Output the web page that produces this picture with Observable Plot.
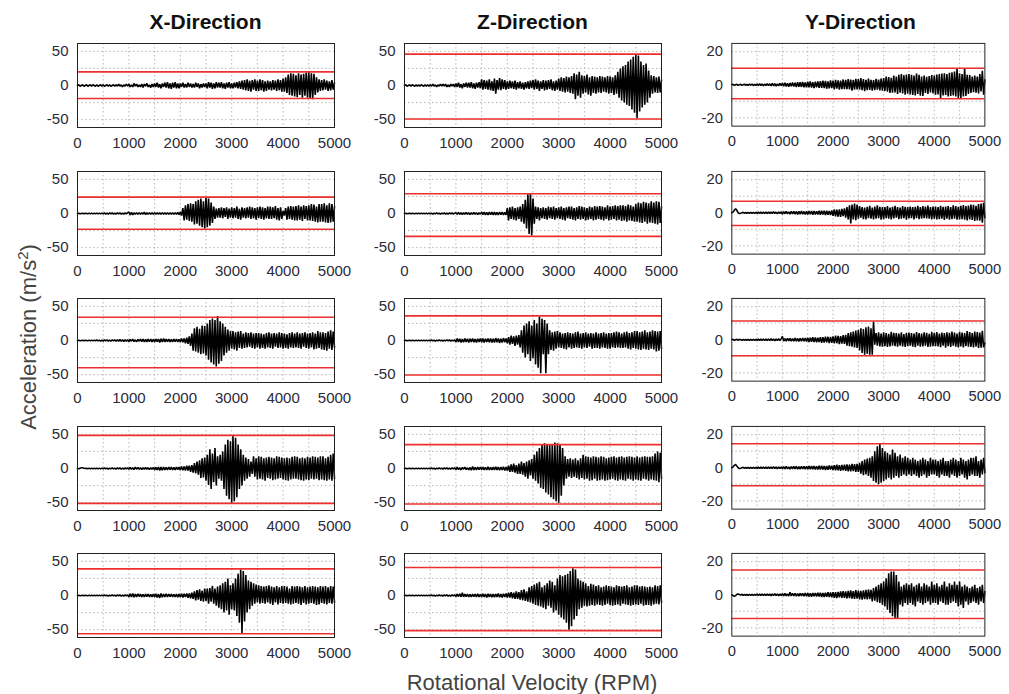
<!DOCTYPE html>
<html>
<head>
<meta charset="utf-8">
<script src="https://cdn.jsdelivr.net/npm/d3@7"></script>
<script src="https://cdn.jsdelivr.net/npm/@observablehq/plot@0.6"></script>
<style>
  html, body { margin: 0; padding: 0; background: #fff; }
  #wrap { position: relative; width: 1009px; height: 694px; overflow: hidden; font-family: "Liberation Sans", Arial, sans-serif; }
  .panel { position: absolute; }
  .title { position: absolute; font-weight: bold; font-size: 21px; color: #111; text-align: center; width: 300px; }
  .ylab { position: absolute; font-size: 22px; color: #444; white-space: nowrap; transform: translate(-50%, -50%) rotate(-90deg); }
  .xlab { position: absolute; font-size: 22px; color: #444; white-space: nowrap; transform: translate(-50%, -50%); }
</style>
</head>
<body>
<div id="wrap"></div>
<script>
// ---- data ----
const directions = ["X-Direction", "Z-Direction", "Y-Direction"];
const rpmStep = 25; // samples every 25 RPM, 0..5000
const xTicks = [0, 1000, 2000, 3000, 4000, 5000];
const xGrid = [500, 1000, 1500, 2000, 2500, 3000, 3500, 4000, 4500];
const yTicksXZ = [-50, 0, 50];
const yGridXZ = [-50, -25, 25, 50];
const yTicksY = [-20, 0, 20];
const yGridY = [-20, -10, 10, 20];

const sigX1 = [
0,1,-1,0,1,-1,0,1,-1,0,
1,-1,1,0,-1,1,-1,0,1,-1,
1,-1,0,1,-1,1,-1,0,1,-1,
1,-1,2,-1,1,-2,1,-1,2,-1,
2,-2,1,-2,3,-1,2,-2,1,-2,
2,-3,2,-1,3,-2,1,-3,2,-2,
3,-2,4,-3,2,-4,3,-2,4,-3,
5,-4,3,-5,4,-3,5,-4,3,-4,
3,-2,4,-3,2,-3,4,-2,3,-3,
2,-3,4,-2,3,-4,2,-3,3,-2,
3,-4,5,-3,4,-5,3,-4,5,-3,
4,-3,5,-4,3,-5,4,-3,5,-4,
3,-4,4,-3,5,-4,6,-5,7,-6,
8,-7,9,-8,7,-9,8,-6,9,-8,
7,-8,9,-7,8,-9,6,-8,7,-6,
6,-7,8,-6,7,-8,9,-7,8,-9,
10,-9,12,-11,16,-14,18,-15,17,-16,
15,-17,18,-14,16,-18,17,-15,19,-18,
20,-19,18,-20,17,-14,12,-10,9,-8,
8,-7,9,-6,7,-8,6,-7,8,-6,
4];
const sigZ1 = [
0,1,-1,0,1,-1,1,0,-1,1,
-1,1,-1,1,0,-1,1,-1,1,-1,
1,-1,2,-1,1,-2,1,-1,2,-1,
2,-1,2,-2,1,-2,2,-1,2,-2,
3,-2,4,-3,2,-4,3,-2,4,-3,
4,-3,5,-4,3,-5,4,-3,5,-4,
9,-6,8,-5,7,-6,9,-7,6,-8,
10,-12,8,-6,11,-7,9,-5,8,-6,
6,-5,7,-4,6,-5,7,-6,5,-4,
6,-5,4,-6,5,-4,6,-5,7,-4,
8,-6,9,-5,7,-8,6,-5,8,-7,
7,-6,8,-5,9,-7,6,-8,7,-6,
10,-8,12,-9,11,-10,13,-9,12,-11,
14,-12,18,-20,16,-15,20,-18,15,-12,
14,-10,16,-13,12,-15,14,-11,13,-12,
12,-10,14,-11,13,-9,12,-10,14,-12,
13,-11,12,-14,15,-12,20,-18,25,-22,
28,-25,30,-28,35,-30,38,-35,42,-40,
45,-48,44,-38,35,-32,30,-28,32,-25,
22,-18,15,-12,14,-10,12,-11,13,-10,
8];
const sigY1 = [
0,0.3,-0.3,0,0.3,-0.3,0,0.3,-0.3,0,
0.4,-0.4,0.3,-0.4,0.5,-0.3,0.4,-0.5,0.3,-0.4,
0.5,-0.5,0.6,-0.4,0.5,-0.6,0.4,-0.5,0.6,-0.5,
0.6,-0.7,0.8,-0.6,0.7,-0.8,0.6,-0.7,0.9,-0.6,
1,-0.8,1.2,-1,0.9,-1.2,1.1,-0.9,1.3,-1,
1.2,-1.4,1.6,-1.2,1.5,-1.3,1.7,-1.5,1.4,-1.6,
1.8,-1.5,2,-1.7,1.6,-2,1.9,-1.6,2.1,-1.8,
2.2,-1.9,2.5,-2,2.3,-2.4,2,-2.2,2.6,-2.1,
2.5,-2.8,3,-2.4,2.7,-3,2.5,-2.6,3.2,-2.7,
3,-2.6,3.4,-2.8,3.1,-3.5,2.9,-3,3.6,-2.8,
3.5,-3,4,-3.2,3.4,-3.8,3,-3.3,3.7,-3.1,
3,-3.5,2.8,-3.2,3.6,-2.9,3.1,-3.4,3.8,-3.6,
4,-3.8,5,-4.2,4.6,-5,4.2,-4.8,5.5,-4.6,
5,-5.5,6,-4.8,6.5,-5.2,5.8,-6,6.2,-5.4,
6.5,-5.8,6,-6.2,5.5,-6.5,6.8,-5.5,6,-6.6,
5,-6.8,5.5,-5,4.8,-5.6,5.2,-4.6,5.8,-5.2,
5.5,-6,6.2,-5.8,6.5,-8,6.8,-6.5,7,-6.2,
6.5,-7,7.2,-6.8,7.5,-6.5,8,-7,10,-8,
7,-8.5,6.5,-7,10,-6.8,6,-5.5,5.8,-5,
5,-4.5,5.5,-4.8,5,-5.2,6.5,-4,8.5,-6,
3];
const sigX2 = [
0,0.5,-0.5,0,0.5,-0.5,0.5,0,-0.5,0.5,
-0.5,0.5,-0.5,0.5,-0.5,0.5,-0.5,0.5,-0.5,0.5,
-0.5,1,-1,0.5,-1,1,-0.5,1,-1,0.5,
-1,1,-0.5,1,-1,0.5,-1,1,-0.5,1,
2,-2,1.5,-2,1,-1,1,-1,1,-1,
1,-1,2,-1.5,1,-1,1,-1,1,-1,
1,-1,1,-1,1,-1,1,-1,1,-1,
1,-1,1,-1,1,-1,1,-1,1.5,-1.5,
2,-3,8,-10,12,-9,14,-11,15,-12,
14,-16,18,-15,20,-18,22,-20,18,-22,
24,-20,22,-18,16,-14,10,-8,7,-6,
8,-6,9,-7,8,-5,9,-8,7,-6,
9,-7,8,-6,10,-8,7,-9,9,-6,
8,-7,9,-6,10,-8,9,-7,8,-9,
9,-7,10,-8,9,-9,8,-7,10,-8,
10,-8,9,-7,11,-9,8,-10,9,-8,
4,-3,8,-9,10,-8,11,-9,10,-10,
11,-10,12,-9,10,-11,12,-8,11,-10,
12,-10,14,-11,13,-12,10,-13,14,-12,
14,-12,15,-13,12,-14,15,-13,14,-12,
10];
const sigZ2 = [
0,0.5,-0.5,0,0.5,-0.5,0.5,0,-0.5,0.5,
-0.5,0.5,-0.5,0.5,-0.5,0.5,-0.5,0.5,-0.5,0.5,
-0.5,0.5,-1,0.5,-0.5,1,-0.5,0.5,-1,0.5,
-0.5,1,-1,0.5,-1,1,-0.5,1,-1,0.5,
1,-1,1.5,-1,1,-1.5,1,-1,1.5,-1,
1,-1.5,1,-1,1.5,-1,1,-1.5,1,-1,
2,-1.5,2,-2,1.5,-2,2,-1.5,2,-2,
2,-2,1.5,-2,2,-1.5,2,-2,1.5,-2,
8,-10,9,-8,10,-9,8,-10,9,-8,
10,-12,14,-15,20,-22,28,-30,30,-32,
22,-15,10,-8,9,-10,8,-7,9,-8,
8,-9,10,-7,9,-8,10,-9,8,-7,
9,-8,10,-9,8,-10,9,-7,10,-8,
10,-9,8,-10,9,-8,11,-9,10,-8,
9,-10,8,-9,10,-8,9,-10,11,-9,
10,-8,11,-9,10,-10,9,-8,12,-10,
10,-9,11,-8,12,-10,11,-9,12,-11,
12,-10,11,-12,13,-10,12,-11,10,-12,
14,-12,16,-13,15,-14,17,-12,16,-15,
15,-13,18,-14,16,-15,18,-16,17,-14,
10];
const sigY2 = [
0,0.5,1.5,2.5,1.5,0,-0.5,-0.3,0,0.3,
-0.3,0.3,-0.3,0.3,-0.3,0.3,-0.3,0.3,-0.3,0.3,
-0.4,0.4,-0.4,0.4,-0.4,0.4,-0.4,0.4,-0.4,0.4,
-0.5,0.5,-0.4,0.6,-0.5,0.4,-0.6,0.5,-0.4,0.6,
-0.8,0.7,-0.6,0.9,-0.7,0.6,-0.8,0.9,-0.7,0.8,
-0.9,0.8,-1,0.9,-0.8,1,-0.9,0.8,-1,0.9,
-1,1.1,-0.9,1,-1.2,1.1,-1,0.9,-1.1,1.2,
-1.2,1.3,-1.1,1.2,-1.4,1.3,-1.2,1.1,-1.3,1.4,
-1.8,2,-2.2,1.9,-2.4,2.1,-2.5,2.3,-2,2.6,
-3,3.5,-4,4.5,-6.5,5,-4,5.5,-4.5,5,
-3.5,4,-3,3.5,-3.8,3.2,-4,3.6,-3.2,4.2,
-3.6,3.2,-4,3.8,-3.5,4.5,-3.2,3.6,-4.2,3.4,
-3.8,3.5,-3.2,4,-3.6,3.2,-4,3.6,-3.4,4.2,
-3,3.4,-3.8,3.2,-3.5,4,-3.2,3.6,-4.2,3.5,
-3.4,3.8,-3.2,3.5,-4,3.6,-3.3,4.2,-3.8,3.4,
-3.6,4,-3.2,3.8,-3.4,4.4,-3.6,3.5,-4,3.8,
-3.5,3.8,-4,3.4,-3.8,4.2,-3.5,3.6,-4.4,3.8,
-3.6,4,-4.2,3.5,-3.8,4.5,-3.6,4,-4.2,3.6,
-4,4.2,-3.8,4.6,-4.2,4,-4.6,4.4,-4,5,
-4.4,4.8,-5,4.2,-4.6,5.2,-4.8,5.6,-6,6,
-3];
const sigX3 = [
0,0.5,-0.5,0,0.5,-0.5,0.5,0,-0.5,0.5,
-0.5,0.5,-0.5,0.5,-0.5,1,-0.5,0.5,-1,0.5,
-1,1,-0.5,1,-1,0.5,-1,1,-0.5,1,
-1,1,-1,1.5,-1,1,-1.5,1,-1,1,
-1.5,1.5,-1,2,-1.5,1,-2,1.5,-1,2,
-1.5,2,-2,1.5,-2,2,-1.5,2,-2,1.5,
-2,2,-1.5,2,-3,2.5,-2,3,-2,2,
-1.5,2,-2,1.5,-2,2,-1.5,2,-2,1.5,
-2,3,-2.5,3,-4,4,-5,6,-8,10,
-15,18,-16,20,-18,17,-20,22,-19,21,
-22,25,-28,30,-32,32,-35,30,-38,36,
-34,28,-30,25,-22,20,-18,16,-15,14,
-12,14,-13,12,-15,13,-11,14,-12,10,
-11,12,-10,11,-9,12,-11,10,-12,11,
-10,11,-12,10,-11,9,-12,11,-10,12,
-11,10,-12,11,-9,10,-11,12,-10,11,
-12,10,-11,9,-12,11,-10,12,-11,10,
-10,12,-11,10,-12,11,-9,12,-11,10,
-12,11,-10,12,-13,10,-12,14,-11,12,
-13,12,-14,11,-15,13,-12,15,-14,13,
-10];
const sigZ3 = [
0,0.5,-0.5,0,0.5,-0.5,0.5,0,-0.5,0.5,
-0.5,0.5,-0.5,0.5,-0.5,0.5,-0.5,0.5,-0.5,0.5,
-0.5,1,-0.5,0.5,-1,0.5,-0.5,1,-0.5,0.5,
-1,0.5,-0.5,1,-0.5,1,-1,0.5,-0.5,1,
-2,3,-2,2.5,-3,2,-2.5,3,-2,2.5,
-3,2.5,-2,3,-2.5,2,-3,2.5,-2,3,
-2.5,3,-3,2.5,-2,3,-2.5,3,-3,2.5,
-3,3.5,-2.5,3,-3.5,2.5,-3,3.5,-2.5,3,
-4,5,-6,7,-5,6,-8,7,-6,8,
-10,15,-18,22,-25,25,-20,28,-30,22,
-26,30,-35,25,-40,35,-48,32,-20,30,
-48,25,-20,15,-14,12,-15,13,-12,14,
-10,12,-11,10,-12,11,-13,12,-10,11,
-12,10,-11,12,-10,13,-11,10,-12,11,
-10,12,-11,10,-9,11,-12,10,-11,12,
-11,10,-12,11,-10,12,-11,10,-12,11,
-12,11,-10,12,-11,13,-10,12,-11,10,
-11,12,-10,13,-12,11,-13,12,-11,14,
-12,14,-13,12,-14,13,-12,15,-13,12,
-14,13,-12,15,-13,14,-16,13,-15,14,
-12];
const sigY3 = [
0,0.3,-0.3,0,0.3,-0.3,0.3,0,-0.3,0.3,
-0.3,0.3,-0.3,0.3,-0.3,0.3,-0.3,0.3,-0.3,0.3,
-0.4,0.4,-0.5,0.4,-0.4,0.5,-0.4,0.4,-0.5,0.4,
-0.5,0.6,-0.5,0.5,-0.6,0.5,-0.5,0.6,-0.5,0.5,
2,-0.8,0.7,-0.8,0.9,-0.7,0.8,-0.9,0.7,-0.8,
1,-0.9,0.8,-1,0.9,-0.8,1,-0.9,1.1,-1,
1.2,-1.4,1.3,-1.2,1.5,-1.3,1.4,-1.5,1.2,-1.4,
1.6,-1.8,1.5,-1.7,1.9,-1.6,1.8,-2,1.7,-1.9,
2,-2.2,2.5,-2.1,2.4,-2.6,2.2,-2.4,2.8,-2.5,
3,-3.5,4,-3.8,4.5,-4.2,5,-4.6,5.5,-5,
6,-6.5,7,-8,6.5,-9,7.5,-8.5,8,-9,
7,-9,11,-3,4,-3.5,4.5,-4,3.8,-4.2,
4.5,-3.8,4,-4.4,3.6,-4,4.8,-3.5,4.2,-3.8,
4,-4.2,3.8,-3.6,4.5,-4,3.5,-4.4,4.2,-3.8,
4.4,-3.6,4,-4.2,3.8,-4.5,4.6,-3.5,4,-4.2,
3.8,-4,4.5,-3.6,4.2,-4.4,3.6,-4.2,4.8,-3.8,
4.2,-3.8,4.6,-4,3.8,-4.5,4.4,-3.6,4,-4.8,
4.5,-3.8,4.2,-4.4,5,-3.6,4.4,-4.2,3.8,-4.6,
4.8,-4,4.4,-4.6,4,-3.8,5.2,-4.2,4.6,-4.4,
4,-4.6,5,-4.2,4.6,-5,4.4,-4.8,5.4,-4.6,
-2];
const sigX4 = [
0,-0.5,0.5,1,1,0.5,0,0.5,-0.5,0.5,
-0.5,0.5,-0.5,0.5,-0.5,0.5,-0.5,0.5,-0.5,0.5,
-0.5,1,-0.5,0.5,-1,0.5,-0.5,1,-0.5,0.5,
-1,1,-0.5,1,-1,0.5,-1,1,-0.5,1,
-1,1.5,-1,1,-1.5,2,-1,1.5,-1,1,
-1.5,1,-1,1.5,-1,1,-1.5,1,-1,1.5,
-2,1.5,-2,2,-3,2,-2.5,2,-2,1.5,
-2,2,-1.5,2,-2,1.5,-2,2,-1.5,2,
-2,3,-2.5,3,-3,4,-3,4,-5,5,
-6,8,-7,10,-9,12,-14,15,-13,16,
-18,20,-24,28,-30,22,-20,30,-25,18,
-15,20,-18,25,-30,35,-40,42,-45,40,
-50,48,-48,45,-42,35,-30,28,-25,20,
-18,16,-15,14,-12,10,-8,18,-12,15,
-16,18,-15,17,-16,15,-18,16,-14,17,
-15,16,-17,15,-16,18,-15,17,-14,16,
-16,15,-17,16,-18,15,-16,17,-15,18,
-15,17,-16,15,-17,16,-18,15,-16,17,
-17,16,-15,18,-16,17,-15,16,-17,18,
-16,18,-17,15,-18,17,-16,20,-18,22,
-15];
const sigZ4 = [
0,0.5,-0.5,0,0.5,-0.5,0.5,0,-0.5,0.5,
-0.5,0.5,-0.5,0.5,-0.5,0.5,-0.5,0.5,-0.5,0.5,
-0.5,1,-0.5,0.5,-1,0.5,-0.5,1,-0.5,0.5,
-1,1,-0.5,1,-1,0.5,-1,1,-0.5,1,
-1.5,2,-1.5,1,-2,1.5,-1,2,-1.5,1,
-2,1.5,-2.5,3,-2,1.5,-2,2,-1.5,2,
-1.5,2,-2,1.5,-2,2.5,-2,1.5,-2,2,
-2,2.5,-2,2,-2.5,2,-2,2.5,-3,2,
-3,4,-5,6,-5,7,-6,5,-8,7,
-8,10,-9,8,-12,10,-15,12,-10,14,
-15,20,-18,25,-22,30,-28,35,-30,37,
-35,36,-38,35,-42,36,-45,38,-48,37,
-50,36,-40,30,-25,18,-15,14,-12,15,
-14,13,-12,15,-14,12,-16,15,-14,20,
-16,18,-15,17,-18,16,-17,18,-15,17,
-18,16,-17,18,-16,17,-18,15,-17,16,
-16,17,-15,18,-17,16,-18,17,-16,18,
-17,16,-18,17,-15,18,-16,17,-18,16,
-16,18,-17,16,-18,17,-15,18,-16,17,
-18,17,-16,18,-17,22,-18,25,-20,23,
-15];
const sigY4 = [
0,0.5,1.5,2,1,0,-0.5,-0.3,0,0.3,
-0.3,0.3,-0.3,0.3,-0.3,0.3,-0.3,0.3,-0.3,0.3,
-0.4,0.4,-0.4,0.4,-0.4,0.4,-0.4,0.4,-0.4,0.4,
-0.5,0.5,-0.5,0.6,-0.5,0.5,-0.6,0.5,-0.5,0.5,
-0.6,0.7,-0.6,0.8,-0.7,0.6,-0.8,0.7,-0.6,0.8,
-0.7,0.8,-0.9,0.7,-0.8,0.9,-0.7,0.8,-0.9,0.8,
-0.9,1,-0.8,1.1,-0.9,1,-1.1,0.9,-1,1.2,
-1,1.2,-1.1,1,-1.3,1.1,-1.2,1.4,-1.1,1.3,
-1.4,1.6,-1.5,1.8,-1.6,1.5,-1.8,1.7,-1.6,1.9,
-1.8,2,-2.2,1.9,-2.1,2.4,-2,2.2,-2.5,2.3,
-2.5,3,-3.5,4,-4.5,5,-4,5.5,-5,6,
-6,7,-8,10,-9,13,-10,15,-9,12,
-8,10,-7,9,-6,8,-7,11,-6,9,
-5,7,-6,8,-5,6,-4,7,-5,6,
-4,5,-5,6,-4,5,-5,4,-6,5,
-5,6,-4,5,-6,4,-5,6,-4,5,
-4,5,-5,4,-6,5,-4,6,-5,4,
-5,4,-6,5,-4,6,-5,5,-6,4,
-5,6,-4,5,-6,4,-7,5,-5,6,
-4,6,-5,7,-5,4,-6,5,-4,6,
-3];
const sigX5 = [
0,0.5,-0.5,0,0.5,-0.5,0.5,0,-0.5,0.5,
-0.5,0.5,-0.5,0.5,-0.5,0.5,-0.5,0.5,-0.5,0.5,
-0.5,1,-0.5,0.5,-1,0.5,-0.5,1,-0.5,0.5,
-1,1,-0.5,1,-1,0.5,-1,1,-0.5,1,
-2,2.5,-2,3,-2.5,2,-2,2.5,-1.5,2,
-2,1.5,-2,2,-1.5,2,-2,1.5,-2,2,
-2,2.5,-3,2,-3.5,3,-2.5,2,-2,2.5,
-2,2,-1.5,2,-2,1.5,-2,2,-2.5,2,
-2,2.5,-3,2.5,-2,3,-3.5,3,-4,4,
-5,6,-7,8,-6,9,-8,7,-9,10,
-8,10,-12,11,-9,14,-12,10,-15,13,
-18,15,-20,18,-25,20,-22,25,-28,15,
-20,18,-22,25,-30,32,-40,38,-55,36,
-38,30,-25,22,-20,20,-15,18,-12,16,
-10,15,-12,14,-11,13,-12,14,-10,15,
-12,13,-14,12,-10,14,-13,12,-11,14,
-12,14,-11,13,-12,10,-13,14,-12,13,
-11,14,-12,13,-14,12,-11,14,-13,12,
-12,13,-11,14,-12,13,-14,12,-13,14,
-11,13,-12,14,-13,12,-11,14,-12,13,
-10];
const sigZ5 = [
0,0.5,-0.5,0,0.5,-0.5,0.5,0,-0.5,0.5,
-0.5,0.5,-0.5,0.5,-0.5,0.5,-0.5,0.5,-0.5,0.5,
-0.5,1,-0.5,0.5,-1,0.5,-0.5,1,-0.5,0.5,
-1,1,-0.5,1,-1,0.5,-1,1,-0.5,1,
-1.5,2,-1.5,2.5,-2,4,-2,2,-1.5,2,
-2,1.5,-2,2,-1.5,2,-2,2.5,-2,1.5,
-2,2.5,-2,2,-3,2.5,-2,2,-2.5,2,
-2.5,2,-2,3,-2.5,2,-3,2.5,-2,3,
-3,4,-3,5,-4,4,-5,6,-5,5,
-6,8,-7,9,-8,6,-9,12,-10,14,
-12,16,-14,18,-15,20,-16,12,-18,15,
-20,18,-15,22,-18,20,-25,15,-22,25,
-28,30,-32,28,-35,30,-40,32,-50,36,
-45,40,-35,38,-30,25,-20,22,-18,20,
-15,18,-16,14,-15,17,-14,16,-15,14,
-13,15,-14,12,-15,13,-14,15,-12,14,
-14,13,-15,12,-14,15,-13,14,-15,13,
-12,14,-13,15,-14,12,-15,13,-14,15,
-13,15,-14,13,-12,14,-15,13,-14,12,
-14,13,-15,12,-13,15,-12,14,-13,15,
-10];
const sigY5 = [
0,-0.5,-1,-0.5,0.3,0.5,0.2,-0.2,0.3,-0.3,
0.3,-0.3,0.3,-0.3,0.3,-0.3,0.3,-0.3,0.3,-0.3,
0.4,-0.4,0.4,-0.4,0.4,-0.4,0.4,-0.4,0.4,-0.4,
0.5,-0.6,0.5,-0.5,0.6,-0.5,0.5,-0.6,0.5,-0.5,
0.7,-0.6,0.8,-0.7,0.6,-0.8,1.5,-0.7,0.8,-0.6,
0.8,-0.9,0.7,-0.8,0.9,-0.7,0.8,-0.9,1,-0.8,
1,-1.1,0.9,-1.2,1,-0.9,1.1,-1,1.2,-1.1,
1.2,-1.3,1.1,-1.4,1.3,-1.2,1.5,-1.3,1.4,-1.5,
1.6,-1.8,1.5,-2,1.7,-1.6,2,-1.8,2.2,-1.9,
2,-2.2,2.4,-2,2.6,-2.3,2.2,-2.5,2.8,-2.4,
2.5,-2.8,2.4,-3,2.7,-2.6,3,-2.8,3.2,-2.6,
3,-4,4,-3.5,5,-4.5,6,-5,7,-6,
8,-7,10,-9,13,-11,14,-13,14,-14,
12,-14,8,-6,5,-7,6,-5,7,-6,
6,-5,7,-6,5,-7,6,-4,7,-5,
5,-6,7,-5,6,-4,5,-6,8,-5,
6,-5,7,-6,5,-4,6,-5,8,-6,
5,-6,7,-5,6,-4,8,-5,6,-7,
8,-6,5,-8,6,-4,5,-6,4,-5,
5,-4,6,-5,4,-6,5,-4,6,-5,
2];

// threshold (red) lines per panel, rows top→bottom, columns X, Z, Y
const upperLimits = [
  [20, 46, 10],
  [24, 29, 7],
  [34, 36, 11.3],
  [48.5, 35, 14.5],
  [39, 41, 15]
];
const lowerLimits = [
  [-19, -49, -8.5],
  [-23, -33.5, -7.7],
  [-40, -50.5, -9.7],
  [-51, -52, -10.9],
  [-56, -51.5, -14.3]
];
const signals = [
  [sigX1, sigZ1, sigY1],
  [sigX2, sigZ2, sigY2],
  [sigX3, sigZ3, sigY3],
  [sigX4, sigZ4, sigY4],
  [sigX5, sigZ5, sigY5]
];

// ---- layout ----
const wrap = document.getElementById("wrap");
const frameLefts = [77, 404, 732];
const frameTops = [43, 171, 298, 426, 553];
const frameW = 257, frameH = 84;
const mL = 45, mR = 25, mT = 5, mB = 30;
const fmt = d => String(d);

directions.forEach((t, c) => {
  const el = document.createElement("div");
  el.className = "title";
  el.textContent = t;
  el.style.left = (frameLefts[c] + frameW / 2 - 150) + "px";
  el.style.top = "10px";
  wrap.appendChild(el);
});

for (let r = 0; r < 5; r++) {
  for (let c = 0; c < 3; c++) {
    const isY = c === 2;
    const dom = isY ? [-25, 25] : [-61.5, 61.5];
    const chart = Plot.plot({
      width: frameW + mL + mR,
      height: frameH + mT + mB,
      marginLeft: mL, marginRight: mR, marginTop: mT, marginBottom: mB,
      style: { fontFamily: "'Liberation Sans', Arial, sans-serif", fontSize: "15px", color: "#2a2a38", background: "transparent", overflow: "visible" },
      x: { domain: [0, 5000] },
      y: { domain: dom },
      marks: [
        Plot.gridX(xGrid, { stroke: "#b8b8b8", strokeOpacity: 1, strokeDasharray: "1.5,2.5" }),
        Plot.gridY(isY ? yGridY : yGridXZ, { stroke: "#b8b8b8", strokeOpacity: 1, strokeDasharray: "1.5,2.5" }),
        Plot.lineY(signals[r][c], { x: (d, i) => i * rpmStep, y: d => d, stroke: "#000", strokeWidth: 1.6, strokeLinejoin: "miter" }),
        Plot.ruleY([upperLimits[r][c], lowerLimits[r][c]], { stroke: "#ee2f2f", strokeWidth: 1.6 }),
        Plot.frame({ stroke: "#222", strokeWidth: 1 }),
        Plot.axisX(xTicks, { tickSize: 0, tickPadding: 10, tickFormat: fmt, label: null }),
        Plot.axisY(isY ? yTicksY : yTicksXZ, { tickSize: 0, tickPadding: 9, tickFormat: fmt, label: null })
      ]
    });
    const holder = document.createElement("div");
    holder.className = "panel";
    holder.style.left = (frameLefts[c] - mL) + "px";
    holder.style.top = (frameTops[r] - mT) + "px";
    holder.appendChild(chart);
    wrap.appendChild(holder);
  }
}

const yl = document.createElement("div");
yl.className = "ylab";
yl.innerHTML = "Acceleration (m/s<sup style='font-size:15px'>2</sup>)";
yl.style.left = "28px";
yl.style.top = "337px";
wrap.appendChild(yl);

const xl = document.createElement("div");
xl.className = "xlab";
xl.textContent = "Rotational Velocity (RPM)";
xl.style.left = "532px";
xl.style.top = "683px";
wrap.appendChild(xl);
</script>
</body>
</html>
